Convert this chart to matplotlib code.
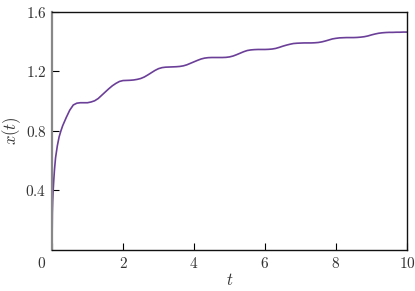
import matplotlib
matplotlib.use('Agg')
import matplotlib.pyplot as plt
import numpy as np

plt.rcParams['mathtext.fontset'] = 'cm'
plt.rcParams['font.family'] = 'serif'

# values
t_early = [0.0, 0.01, 0.02, 0.03, 0.05, 0.07, 0.1, 0.15, 0.2, 0.25, 0.3, 0.4, 0.5, 0.6, 0.7, 0.8, 0.9]
x_early = [0.0, 0.25, 0.33, 0.39, 0.47, 0.54, 0.62, 0.70, 0.76, 0.80, 0.835, 0.89, 0.94, 0.975, 0.987, 0.99, 0.99]

t_late = [1.0, 1.1, 1.2, 1.3, 1.4, 1.5, 1.6, 1.7, 1.8, 1.9,
          2.0, 2.1, 2.2, 2.3, 2.4, 2.5, 2.6, 2.7, 2.8, 2.9,
          3.0, 3.1, 3.2, 3.3, 3.4, 3.5, 3.6, 3.7, 3.8, 3.9,
          4.0, 4.1, 4.2, 4.3, 4.4, 4.5, 4.6, 4.7, 4.8, 4.9,
          5.0, 5.1, 5.2, 5.3, 5.4, 5.5, 5.6, 5.7, 5.8, 5.9,
          6.0, 6.1, 6.2, 6.3, 6.4, 6.5, 6.6, 6.7, 6.8, 6.9,
          7.0, 7.1, 7.2, 7.3, 7.4, 7.5, 7.6, 7.7, 7.8, 7.9,
          8.0, 8.1, 8.2, 8.3, 8.4, 8.5, 8.6, 8.7, 8.8, 8.9,
          9.0, 9.1, 9.2, 9.3, 9.4, 9.5, 9.6, 9.7, 9.8, 9.9, 10.0]
x_late = [0.99, 0.995, 1.003, 1.018, 1.04, 1.062, 1.084, 1.104, 1.12, 1.133,
          1.139, 1.14, 1.141, 1.143, 1.147, 1.153, 1.163, 1.177, 1.192, 1.207,
          1.219, 1.226, 1.229, 1.23, 1.231, 1.232, 1.234, 1.238, 1.245, 1.255,
          1.265, 1.275, 1.284, 1.29, 1.293, 1.294, 1.294, 1.294, 1.294, 1.295,
          1.298, 1.304, 1.313, 1.323, 1.333, 1.341, 1.345, 1.347, 1.348, 1.348,
          1.348, 1.349, 1.351, 1.355, 1.362, 1.37, 1.377, 1.383, 1.388, 1.39,
          1.391, 1.392, 1.392, 1.392, 1.393, 1.395, 1.399, 1.405, 1.412, 1.419,
          1.423, 1.426, 1.427, 1.428, 1.428, 1.428, 1.429, 1.431, 1.434, 1.439,
          1.446, 1.452, 1.457, 1.46, 1.462, 1.463, 1.463, 1.464, 1.464, 1.465, 1.465]

t = t_early + t_late
x = x_early + x_late

xticks = [0, 2, 4, 6, 8, 10]
yticks = [0.4, 0.8, 1.2, 1.6]

fig = plt.figure(figsize=(4.15, 2.91), dpi=100)
ax = fig.add_axes([0.1253, 0.1409, 0.8554, 0.8179])
ax.plot(t, x, color='#6b3f98', lw=1.2)

ax.set_xlim(0, 10)
ax.set_ylim(0, 1.6)
ax.set_xticks(xticks)
ax.set_xticklabels(['' if v == 0 else '$%d$' % v for v in xticks])
ax.set_yticks(yticks)
ax.set_yticklabels(['$%.1f$' % v for v in yticks])
ax.tick_params(direction='in', length=5, width=0.8, labelsize=11,
               labelcolor='#333333', pad=4)
ax.annotate('$0$', xy=(0, 0), xycoords='axes fraction', xytext=(-4, -4),
            textcoords='offset points', ha='right', va='top',
            fontsize=11, color='#333333')

for s in ['top', 'right', 'bottom']:
    ax.spines[s].set_linewidth(1.0)
    ax.spines[s].set_color('#111111')
ax.spines['left'].set_color('#888888')
ax.spines['left'].set_linewidth(1.6)

ax.set_xlabel('$t$', fontsize=12, color='#333333', labelpad=1)
ax.set_ylabel('$x(t)$', fontsize=12, color='#333333', labelpad=2)

fig.savefig('out.png', dpi=100)
